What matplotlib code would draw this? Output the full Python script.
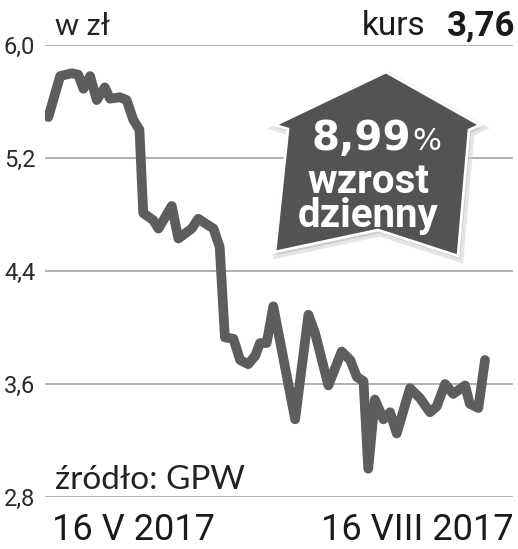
import matplotlib
matplotlib.use("Agg")
import matplotlib.pyplot as plt
from matplotlib.patches import Polygon

# days since 16 V 2017 and closing price (zł)
days = [0, 2.5, 4.9, 6.3, 7.4, 8.8, 10.2, 11.9, 13.0, 15.1, 16.5, 17.9, 19.2,
        20.0, 22.1, 23.2, 26.0, 27.4, 30.2, 31.6, 33.4, 34.8, 36.1, 37.2,
        39.0, 40.4, 42.1, 43.6, 44.6, 46.0, 47.4, 52.0, 54.8, 56.2, 59.0,
        61.8, 63.6, 65.0, 66.4, 67.4, 68.8, 70.6, 72.0, 73.4, 76.2, 78.3,
        80.4, 81.8, 83.6, 85.3, 87.8, 88.8, 90.6, 92.0]
price = [5.49, 5.78, 5.80, 5.79, 5.69, 5.78, 5.61, 5.70, 5.62, 5.63, 5.61,
         5.47, 5.40, 4.81, 4.76, 4.70, 4.86, 4.63, 4.70, 4.77, 4.73, 4.70,
         4.57, 3.93, 3.92, 3.77, 3.74, 3.80, 3.89, 3.89, 4.15, 3.35, 4.09,
         3.96, 3.59, 3.83, 3.77, 3.65, 3.62, 3.00, 3.49, 3.35, 3.40, 3.25,
         3.57, 3.50, 3.40, 3.44, 3.60, 3.53, 3.59, 3.46, 3.43, 3.77]

yticks = [2.8, 3.6, 4.4, 5.2, 6.0]
ytick_labels = ["2,8", "3,6", "4,4", "5,2", "6,0"]
date_start = "16 V 2017"
date_end = "16 VIII 2017"
last_price = "3,76"
change = "8,99"

W, H = 518, 549
fig = plt.figure(figsize=(W / 100, H / 100), dpi=100)


def fx(x):
    return x / W


def fy(y):
    return 1 - y / H


ax = fig.add_axes([fx(45), fy(497), fx(513) - fx(45), fy(45) - fy(497)])
ax.set_ylim(2.8, 6.0)
ax.set_xlim(-0.7, 97.9)
for s in ax.spines.values():
    s.set_visible(False)
ax.set_xticks([])
ax.set_yticks(yticks)
ax.set_yticklabels(ytick_labels, fontsize=17, color="#2a2a2a", family="Roboto")
ax.tick_params(axis="y", length=0, pad=7)
ax.grid(axis="y", color="#aaaaaa", lw=1.3)
ax.set_axisbelow(True)

ax.plot(days, price, color="#5d5d5d", lw=7, solid_joinstyle="round",
        solid_capstyle="round", zorder=3)

# arrow-house badge
pts = [(386, 72), (480, 125), (469, 130), (458, 256), (378, 230),
       (275, 252), (288, 129), (275, 125)]
shadow = Polygon([(fx(x + 2), fy(y + 3)) for x, y in pts], closed=True,
                 transform=fig.transFigure, fc="#999999", ec="#cccccc",
                 lw=5, alpha=0.5, zorder=4)
badge = Polygon([(fx(x), fy(y)) for x, y in pts], closed=True,
                transform=fig.transFigure, fc="#535353", ec="white",
                lw=2, joinstyle="miter", zorder=5)
fig.patches.extend([shadow, badge])

narrow = ["DejaVu Sans Condensed", "Roboto"]
fig.text(fx(312), fy(150), change, fontsize=29, fontweight="bold",
         color="white", family="DejaVu Sans", ha="left", va="baseline",
         zorder=6)
fig.text(fx(412), fy(150), "%", fontsize=22, color="white",
         family="DejaVu Sans", ha="left", va="baseline", zorder=6)
# va="baseline" on a two-line text pins the last line's baseline
fig.text(fx(368), fy(227), "wzrost\ndzienny", fontsize=29, fontweight="bold",
         color="white", family=narrow, ha="center", va="baseline",
         multialignment="center", linespacing=0.86, zorder=6)

# header and footer texts
fig.text(fx(55), fy(35), "w zł", fontsize=22, color="#222222",
         family="Lato", va="baseline")
fig.text(fx(425), fy(35), "kurs", fontsize=24, color="#1a1a1a",
         family="Roboto", ha="right", va="baseline")
fig.text(fx(515), fy(35), last_price, fontsize=25, fontweight="bold",
         color="#1a1a1a", family="Roboto", ha="right", va="baseline")
fig.text(fx(55), fy(489), "źródło: GPW", fontsize=24, color="#222222",
         family="Lato", va="baseline")
fig.text(fx(52), fy(540), date_start, fontsize=26, color="#1a1a1a",
         family="Roboto", va="baseline")
fig.text(fx(514), fy(540), date_end, fontsize=26, color="#1a1a1a",
         family="Roboto", ha="right", va="baseline")

fig.savefig("out.png", dpi=100)
